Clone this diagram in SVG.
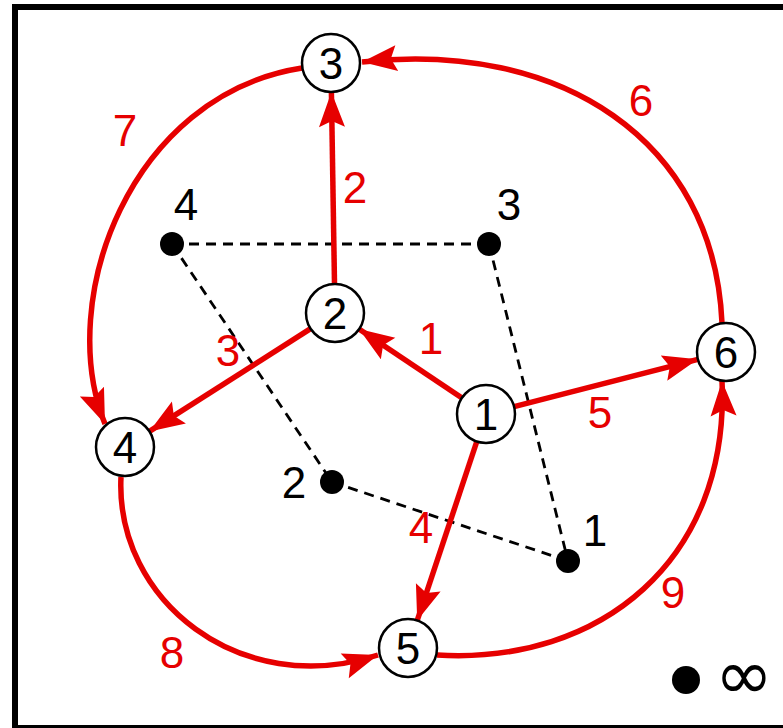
<svg xmlns="http://www.w3.org/2000/svg" width="783" height="728" viewBox="0 0 783 728">
<style>
.node circle{fill:#fff;stroke:#000;stroke-width:2.5}
.node text,.pt text{font-family:"Liberation Sans","DejaVu Sans",sans-serif;font-size:44px;text-anchor:middle;fill:#000}
.pt circle{fill:#000}
.dash{stroke:#000;stroke-width:2.8;stroke-dasharray:10 7;fill:none}
.edge{stroke:#e60000;stroke-width:5.5;fill:none;marker-end:url(#arr)}
.lbl{font-family:"Liberation Sans","DejaVu Sans",sans-serif;font-size:44px;text-anchor:middle;fill:#e60000}
</style>
<defs>
<marker id="arr" markerUnits="userSpaceOnUse" markerWidth="44" markerHeight="34" viewBox="-38 -17 40 34" refX="0" refY="0" orient="auto">
<path d="M0,0 L-35,-13 L-29,0 L-35,13 Z" fill="#e60000"/>
</marker>
</defs>
<rect x="15" y="7" width="800" height="721" fill="none" stroke="#000" stroke-width="6"/>
<g id="dashes">
<line class="dash" x1="172" y1="244" x2="489" y2="244"/>
<line class="dash" x1="172" y1="244" x2="332" y2="482"/>
<line class="dash" x1="332" y1="482" x2="568" y2="561"/>
<line class="dash" x1="489" y1="244" x2="568" y2="561"/>
</g>
<g id="points">
<g id="p4" class="pt"><circle cx="172" cy="244" r="12"/><text x="186" y="220">4</text></g>
<g id="p3" class="pt"><circle cx="489" cy="244" r="12"/><text x="509" y="220">3</text></g>
<g id="p2" class="pt"><circle cx="332" cy="482" r="12"/><text x="294" y="498">2</text></g>
<g id="p1" class="pt"><circle cx="568" cy="561" r="12"/><text x="595" y="546">1</text></g>
<g id="pinf" class="pt"><circle cx="686" cy="680" r="14"/><text x="744" y="699" style="font-family:'DejaVu Sans',sans-serif;font-size:70px">∞</text></g>
</g>
<g id="connectors">
<line class="edge" x1="462" y1="398" x2="359" y2="329"/>
<line class="edge" x1="334.5" y1="284" x2="331.4" y2="92"/>
<line class="edge" x1="310.6" y1="328.6" x2="149.4" y2="431.4"/>
<line class="edge" x1="476.8" y1="441.5" x2="417.2" y2="620.5"/>
<line class="edge" x1="514.1" y1="406.7" x2="697.9" y2="359.3"/>
<path class="edge" d="M722,323 C714,140 560,40 362,62"/>
<path class="edge" d="M302,68 C130,95 55,300 105,424"/>
<path class="edge" d="M121,477 C115,600 240,700 378,655"/>
<path class="edge" d="M437,655 C600,665 730,560 722,381"/>
<text class="lbl" x="431" y="354">1</text>
<text class="lbl" x="355" y="203">2</text>
<text class="lbl" x="228" y="366">3</text>
<text class="lbl" x="421" y="543">4</text>
<text class="lbl" x="600" y="428">5</text>
<text class="lbl" x="641" y="116">6</text>
<text class="lbl" x="125" y="146">7</text>
<text class="lbl" x="172" y="668">8</text>
<text class="lbl" x="673" y="608">9</text>
</g>
<g id="n3" class="node"><circle cx="331" cy="63" r="29"/><text x="331" y="79">3</text></g>
<g id="n2" class="node"><circle cx="335" cy="313" r="29"/><text x="335" y="329">2</text></g>
<g id="n1" class="node"><circle cx="486" cy="414" r="29"/><text x="486" y="430">1</text></g>
<g id="n6" class="node"><circle cx="726" cy="352" r="29"/><text x="726" y="368">6</text></g>
<g id="n4" class="node"><circle cx="125" cy="447" r="29"/><text x="125" y="463">4</text></g>
<g id="n5" class="node"><circle cx="408" cy="648" r="29"/><text x="408" y="664">5</text></g>
</svg>
